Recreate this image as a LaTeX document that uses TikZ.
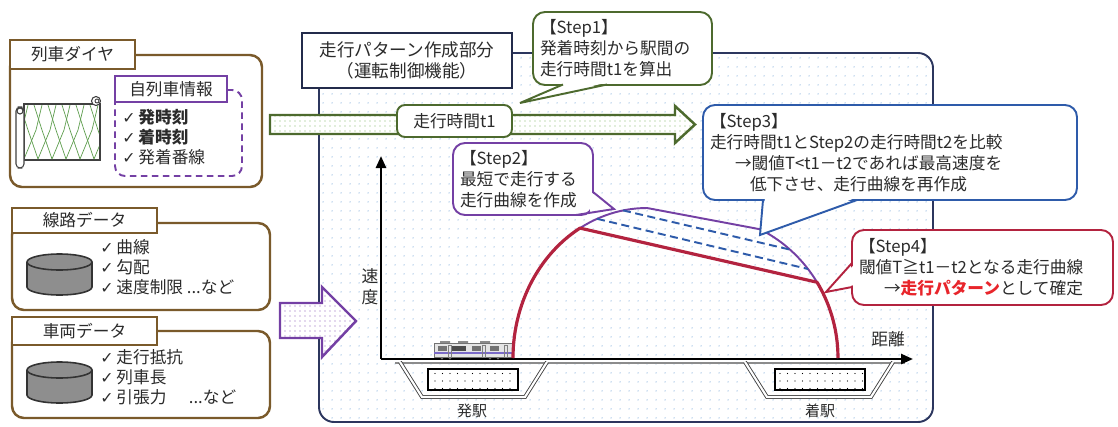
\documentclass[tikz,border=0pt]{standalone}
\usepackage{fontspec}
\setmainfont{Noto Sans CJK JP}
\newfontfamily\checkfont{DejaVu Sans}
\usetikzlibrary{arrows.meta,calc,patterns.meta}
\definecolor{ink}{HTML}{2B2B2B}
\definecolor{panelbrown}{HTML}{7A5A2B}
\definecolor{framenavy}{HTML}{2C365E}
\definecolor{stepgreen}{HTML}{4D6A2E}
\definecolor{steppurple}{HTML}{7440A4}
\definecolor{stepblue}{HTML}{2E5BAA}
\definecolor{stepred}{HTML}{B3233F}
\definecolor{alertred}{HTML}{E8252B}
\definecolor{dotblue}{HTML}{9CC0E4}
\definecolor{dotgreen}{HTML}{82B86C}
\definecolor{dotpurple}{HTML}{8C5CB8}
\definecolor{drumgray}{HTML}{8E8E8E}
\definecolor{linegreen}{HTML}{5E9E4E}
\definecolor{trainpurple}{HTML}{7A6AC8}

\newcommand{\chk}{{\checkfont\fontsize{9}{10}\selectfont ✓}\,}

\begin{document}
\begin{tikzpicture}[x=.2mm,y=-.2mm,
  font=\fontsize{9.5}{12}\selectfont, text=ink,
  panel/.style={draw=panelbrown,line width=1.4pt,rounded corners=2.4mm,fill=white,inner sep=0pt},
  tab/.style={draw=panelbrown,line width=1.4pt,fill=white,inner sep=0pt},
  item/.style={anchor=west,inner sep=0pt},
  drum/.style={draw=black!80,line width=.9pt,fill=drumgray},
  mainarea/.style={draw=framenavy,line width=1.1pt,rounded corners=3mm,inner sep=0pt,
                   preaction={fill=white},pattern={Dots[distance=1.8mm,radius=.45pt]},pattern color=dotblue},
  bubble/.style={line width=1.1pt,rounded corners=2.4mm,fill=white,align=left,inner xsep=1.4mm,inner ysep=0pt},
  pointer/.style={line width=1.1pt,line join=miter},
  blockarrow/.style={line width=1.4pt,line join=miter,preaction={fill=white},pattern={Dots[distance=1mm,radius=.35pt]}},
  platform/.style={draw=black!75,double=white,double distance=1.2pt,line width=.5pt},
  stationbox/.style={draw=black,line width=1.6pt,inner sep=0pt,preaction={fill=white},
                     pattern={Dots[distance=1.5mm,radius=.3pt]},pattern color=black},
  axis/.style={line width=1.4pt,-{Triangle[length=2.4mm,width=2mm]}},
  curve/.style={line width=1.1pt,line join=round},
  retry/.style={draw=stepblue,line width=1.1pt,dash pattern=on 1.6mm off .9mm}
]
\path[use as bounding box] (0,0) rectangle (1118,426);

% pattern generation area
\node[mainarea,minimum width=122.8mm,minimum height=73.8mm] (patternarea) at (626,237.5) {};
\node[draw=framenavy!80!black,line width=1.6pt,fill=white,align=center,inner sep=0pt,
      minimum width=42mm,minimum height=11mm,font=\fontsize{10}{11.5}\selectfont] (title) at (407,60.5)
  {走行パターン作成部分\\（運転制御機能）};

% step 1 and the running time arrow
\node[bubble,draw=stepgreen,text width=33mm,minimum height=14.6mm] (step1) at (622.5,48.5)
  {【Step1】\\発着時刻から駅間の\\走行時間t1を算出};
\fill[white] (565,83) -- (520,103) -- (605,83) -- cycle;
\draw[pointer,stepgreen] (563,84.5) -- (520,103) -- (607,84.5);

\draw[blockarrow,draw=stepgreen,pattern color=dotgreen]
  (270,115) -- (675,115) -- (675,106) -- (695,124.5) -- (675,143) -- (675,134) -- (270,134) -- cycle;
\node[draw=stepgreen,line width=1.1pt,rounded corners=1.6mm,fill=white,
      minimum width=23mm,minimum height=6.4mm] (runtime) at (454.5,121) {走行時間t1};

% input data
\node[panel,minimum width=50.4mm,minimum height=26.4mm] (timetable) at (136,121) {};
\node[tab,minimum width=25mm,minimum height=5.8mm] (timetabletab) at (72.5,54.5) {列車ダイヤ};

\draw[black!75,line width=.6pt,fill=white] (24,104) rectangle (100,160);
\begin{scope}
  \clip (25,105) rectangle (99,159);
  \foreach \x in {20,34,...,104}{
    \draw[linegreen,line width=.4pt] (\x,105) -- (\x+8,130) -- (\x+18,159);
    \draw[linegreen,line width=.4pt] (\x+8,105) -- (\x+2,130) -- (\x-10,159);
  }
\end{scope}
\draw[black!75,line width=.6pt,fill=white,rounded corners=.8mm] (16,107) rectangle (24,168);
\draw[black!75,line width=.6pt] (20,111) circle (3);
\draw[black!75,line width=.6pt,fill=white] (96,101) circle (4.5);
\draw[black!75,line width=.5pt] (97,101) circle (2);

\node[draw=steppurple,line width=1.1pt,dash pattern=on 1.3mm off .9mm,rounded corners=2mm,
      minimum width=25.4mm,minimum height=17.2mm] (owntrain) at (178.5,133) {};
\node[tab,draw=steppurple,line width=1.1pt,minimum width=22.4mm,minimum height=5.2mm] (owntraintab) at (171,89) {自列車情報};
\node[item] at (122,117) {\chk\textbf{発時刻}};
\node[item] at (122,137) {\chk\textbf{着時刻}};
\node[item] at (122,157) {\chk 発着番線};

\node[panel,minimum width=51.6mm,minimum height=17.4mm] (track) at (141,266.5) {};
\node[tab,minimum width=29mm,minimum height=5mm] (tracktab) at (84.5,220.5) {線路データ};
\node[item] at (100,247) {\chk 曲線};
\node[item] at (100,267) {\chk 勾配};
\node[item] at (100,287) {\chk 速度制限 ...など};

\node[panel,minimum width=51.6mm,minimum height=17.4mm] (vehicle) at (141,374.5) {};
\node[tab,minimum width=29mm,minimum height=5.6mm] (vehicletab) at (84.5,331) {車両データ};
\node[item] at (100,357) {\chk 走行抵抗};
\node[item] at (100,377) {\chk 列車長};
\node[item] at (100,397) {\chk 引張力\hspace{4.5mm}...など};

\foreach \cy in {262,370}{
  \draw[drum] (27,\cy) -- (27,\cy+25) arc[start angle=180,end angle=0,x radius=32.5,y radius=8] -- (92,\cy);
  \draw[drum] (59.5,\cy) ellipse [x radius=32.5,y radius=8];
}

\draw[blockarrow,draw=steppurple,pattern color=dotpurple]
  (280,303) -- (322,303) -- (322,287) -- (356,321) -- (322,357) -- (322,338) -- (280,338) -- cycle;

% speed / distance chart
\coordinate (origin) at (381,359);
\draw[black!45,line width=.8pt] (395,363) -- (905,363);
\draw[axis] (origin) -- (381,156);
\draw[axis] (origin) -- (913,359);
\node[align=center] (speed) at (370,287) {速\\度};
\node (distance) at (888,339) {距離};

\draw[platform] (400,362) -- (422,397) -- (525,397) -- (547,362);
\draw[platform] (745,362) -- (767,397) -- (871,397) -- (893,362);
\node[stationbox,minimum width=18mm,minimum height=4.2mm] (depbox) at (473,379.5) {};
\node[stationbox,minimum width=18mm,minimum height=4.2mm] (arrbox) at (820,379.5) {};
\node[font=\fontsize{8.5}{10}\selectfont] (dep) at (472,411) {発駅};
\node[font=\fontsize{8.5}{10}\selectfont] (arr) at (820,411) {着駅};

% train at the departure station
\begin{scope}[shift={(434,341)}]
  \fill[black!45] (6,0) rectangle (16,2.5) (24,0) rectangle (34,2.5) (46,0) rectangle (56,2.5);
  \draw[black!55,fill=black!10,line width=.3pt] (0,2.5) rectangle (79,16.5);
  \fill[trainpurple] (0,11) rectangle (79,12.8);
  \foreach \wx in {4,38,56}{\fill[black!55] (\wx,5) rectangle (\wx+9,9.5);}
  \fill[black!70] (18,5) rectangle (32,10);
  \foreach \dx in {14,48,70}{\draw[black!50,line width=.3pt] (\dx,4) rectangle (\dx+3,16);}
  \foreach \wx in {8,16,56,64}{\fill[black!60] (\wx,17.3) circle (1.3);}
\end{scope}

% running curves
\draw[curve,draw=steppurple]
  plot[domain=180:90,samples=40,variable=\t] ({647+134*cos(\t)},{358-150*sin(\t)})
  -- plot[domain=64.2:0,samples=30,variable=\t] ({700+138*cos(\t)},{358-143*sin(\t)});
\draw[retry] (623,210.4) -- (790,249.6);
\draw[retry] (597,218.8) -- (808,269);
\draw[curve,draw=stepred,line width=1.8pt]
  plot[domain=180:120,samples=30,variable=\t] ({647+134*cos(\t)},{358-150*sin(\t)})
  -- plot[domain=32:0,samples=20,variable=\t] ({700+138*cos(\t)},{358-143*sin(\t)});

% steps 2 to 4
\node[bubble,draw=steppurple,text width=25.2mm,minimum height=14.4mm] (step2) at (523,179)
  {【Step2】\\最短で走行する\\走行曲線を作成};
\fill[white] (591,192) -- (614,209) -- (577,213.5) -- (590,212) -- cycle;
\draw[pointer,steppurple] (593,192) -- (614,209) -- (576,215);

\node[bubble,draw=stepblue,text width=72mm,minimum height=19mm] (step3) at (890,152.5)
  {【Step3】\\走行時間t1とStep2の走行時間t2を比較\\
   \hspace*{5mm}→閾値T<t1－t2であれば最高速度を\\
   \hspace*{8mm}低下させ、走行曲線を再作成};
\fill[white] (765,198) -- (760,235) -- (855,198) -- cycle;
\draw[pointer,stepblue] (763,200) -- (760,235) -- (857,200);

\node[bubble,draw=stepred,text width=49.4mm,minimum height=15mm] (step4) at (982.5,267.5)
  {【Step4】\\閾値T≧t1－t2となる走行曲線\\
   \hspace*{5mm}→\textcolor{alertred}{\textbf{走行パターン}}として確定};
\fill[white] (854,265) -- (826,292) -- (854,285) -- cycle;
\draw[pointer,stepred] (852,263) -- (826,292) -- (852,287);
\end{tikzpicture}
\end{document}
